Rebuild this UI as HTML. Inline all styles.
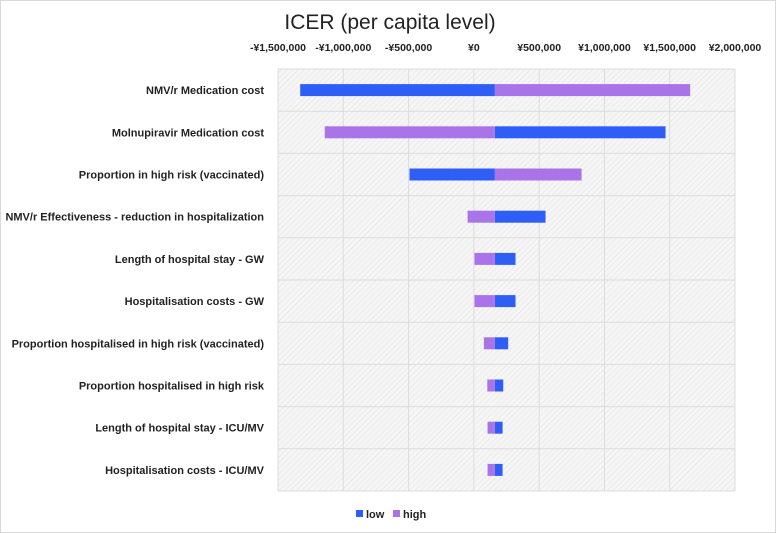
<!DOCTYPE html>
<html><head><meta charset="utf-8"><style>
body{margin:0;background:#fff}
svg{display:block;font-family:"Liberation Sans","Noto Sans CJK JP",sans-serif}
</style></head><body>
<svg id="chart" width="776" height="533" viewBox="0 0 776 533">
<defs>
<pattern id="hatch" width="4" height="4" patternUnits="userSpaceOnUse" patternTransform="rotate(45)">
<rect width="4" height="4" fill="#f6f6f6"/><line x1="0" y1="0" x2="0" y2="4" stroke="#e2e2e2" stroke-width="1.2"/>
</pattern>
</defs>
<rect x="0.5" y="0.5" width="775" height="532" fill="#fff" stroke="#d9d9d9"/>
<text x="390" y="29" font-size="21" text-anchor="middle" fill="#222">ICER (per capita level)</text>
<rect x="278" y="69" width="457" height="422" fill="url(#hatch)"/>
<g id="grid"></g><g id="bars"></g><g id="ticks"></g><g id="cats"></g>
<g>
<rect x="356" y="510" width="7" height="7" fill="#2F5EF6"/>
<text x="366" y="518" font-size="11" font-weight="bold" fill="#222">low</text>
<rect x="393" y="510" width="7" height="7" fill="#A974E8"/>
<text x="403" y="518" font-size="11" font-weight="bold" fill="#222">high</text>
</g>
</svg>
<script>
const categories=["NMV/r Medication cost","Molnupiravir Medication cost","Proportion in high risk (vaccinated)","NMV/r Effectiveness - reduction in hospitalization","Length of hospital stay - GW","Hospitalisation costs - GW","Proportion hospitalised  in high risk (vaccinated)","Proportion hospitalised  in high risk","Length of hospital stay - ICU/MV","Hospitalisation costs - ICU/MV"];
const lowValues=[-1330000,1468000,-493000,549000,319000,319000,263000,225000,220000,220000];
const highValues=[1657000,-1142000,825000,-48000,5000,5000,77000,103000,105000,105000];
const baseValue=161000;
const tickValues=[-1500000,-1000000,-500000,0,500000,1000000,1500000,2000000];
const tickLabels=["-¥1,500,000","-¥1,000,000","-¥500,000","¥0","¥500,000","¥1,000,000","¥1,500,000","¥2,000,000"];
const NS="http://www.w3.org/2000/svg";
const x0=278,x1=735,y0=69,y1=491;
const xs=v=>x0+(v-tickValues[0])/(tickValues[tickValues.length-1]-tickValues[0])*(x1-x0);
const rowH=(y1-y0)/categories.length;
function mk(tag,attrs,parent){const e=document.createElementNS(NS,tag);for(const k in attrs)e.setAttribute(k,attrs[k]);document.getElementById(parent).appendChild(e);return e;}
tickValues.forEach((v,i)=>{
 const l=mk('line',{x1:xs(v),x2:xs(v),y1:y0,y2:y1,stroke:'#dcdcdc','stroke-width':1},'grid');
 
 
 const t=mk('text',{x:xs(v),y:51,'font-size':10.5,'font-weight':'bold','text-anchor':'middle',fill:'#222'},'ticks');
 t.textContent=tickLabels[i];
 
 
});
for(let i=0;i<=categories.length;i++){
 const l=mk('line',{x1:x0,x2:x1,y1:y0+i*rowH,y2:y0+i*rowH,stroke:'#dcdcdc','stroke-width':1},'grid');
 
 
}
const bx=xs(baseValue);
categories.forEach((c,i)=>{
 const cy=y0+i*rowH+rowH/2;
 const t=mk('text',{x:264,y:cy+4,'font-size':11,'font-weight':'bold','text-anchor':'end',fill:'#222'},'cats');
 t.textContent=c;
 
 
 [[lowValues[i],'#2F5EF6','bar-low'],[highValues[i],'#A974E8','bar-high']].forEach(([v,col,nm])=>{
  const xv=xs(v);
  const r=mk('rect',{x:Math.min(xv,bx),y:cy-6,width:Math.abs(xv-bx),height:12,fill:col},'bars');
  
  
 });
});
</script>
</body></html>
